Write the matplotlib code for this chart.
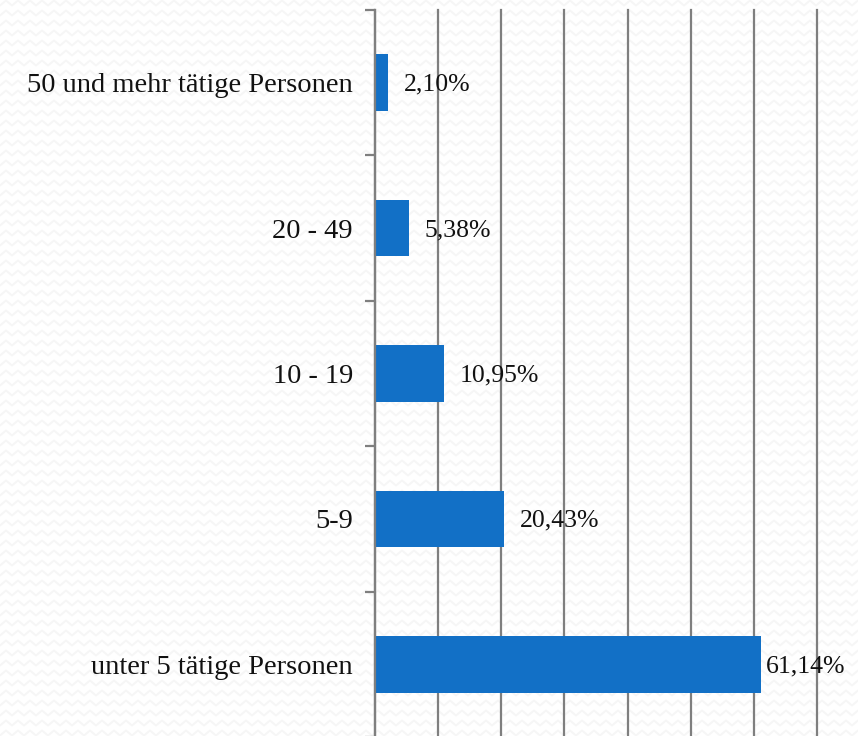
import numpy as np
import matplotlib
matplotlib.use("Agg")
import matplotlib.pyplot as plt
from matplotlib.lines import Line2D

categories = [
    "unter 5 tätige Personen",
    "5-9",
    "10 - 19",
    "20 - 49",
    "50 und mehr tätige Personen",
]
shares = [61.14, 20.43, 10.95, 5.38, 2.10]
value_labels = ["61,14%", "20,43%", "10,95%", "5,38%", "2,10%"]

W, H = 858, 736
fig = plt.figure(figsize=(W / 100, H / 100), dpi=100)
fig.patch.set_facecolor("white")

# faint zigzag texture over the background
period, amp, gap = 12, 2.5, 10
xs = np.arange(-period, W + period, period / 2)
for row in np.arange(3, H + gap, gap):
    ys = row + np.where((np.arange(len(xs)) % 2) == 0, -amp, amp)
    fig.add_artist(Line2D(xs / W, ys / H, color="#f6f6f6", lw=1.4,
                          transform=fig.transFigure, zorder=0))

ax = fig.add_axes([375 / W, -1 / H, (817 - 375) / W, (H - 10 + 1) / H])
ax.set_facecolor("none")

font = ["Liberation Serif", "DejaVu Serif"]
y = np.arange(len(categories))
ax.barh(y, shares, height=0.39, color="#1270C6", zorder=3)

ax.set_xlim(0, 70)
ax.set_ylim(-0.5, len(categories) - 0.5)
ax.set_xticks(np.arange(0, 71, 10))
ax.xaxis.grid(True, color="#7f7f7f", lw=1.6, zorder=1)
for gl in ax.get_xgridlines():
    gl.set_clip_on(False)
ax.tick_params(axis="x", length=0, labelbottom=False)

ax.set_yticks(y)
ax.set_yticklabels(categories, fontfamily=font, fontsize=20.5, color="#111111")
ax.set_yticks(np.arange(-0.5, len(categories), 1), minor=True)
ax.tick_params(axis="y", which="major", length=0, pad=16)
ax.tick_params(axis="y", which="minor", length=7, width=1.6, color="#7f7f7f")

for s in ["top", "right", "bottom"]:
    ax.spines[s].set_visible(False)
ax.spines["left"].set_color("#7f7f7f")
ax.spines["left"].set_linewidth(1.6)
ax.spines["left"].set_zorder(4)

for yi, v, lab in zip(y, shares, value_labels):
    off = 5 if v > 60 else 16
    ax.annotate(lab, (v, yi), xytext=(off, -2), textcoords="offset pixels",
                va="center", ha="left", fontfamily=font, fontsize=18.5,
                color="#111111", zorder=5, annotation_clip=False)

fig.savefig("out.png", dpi=100)
